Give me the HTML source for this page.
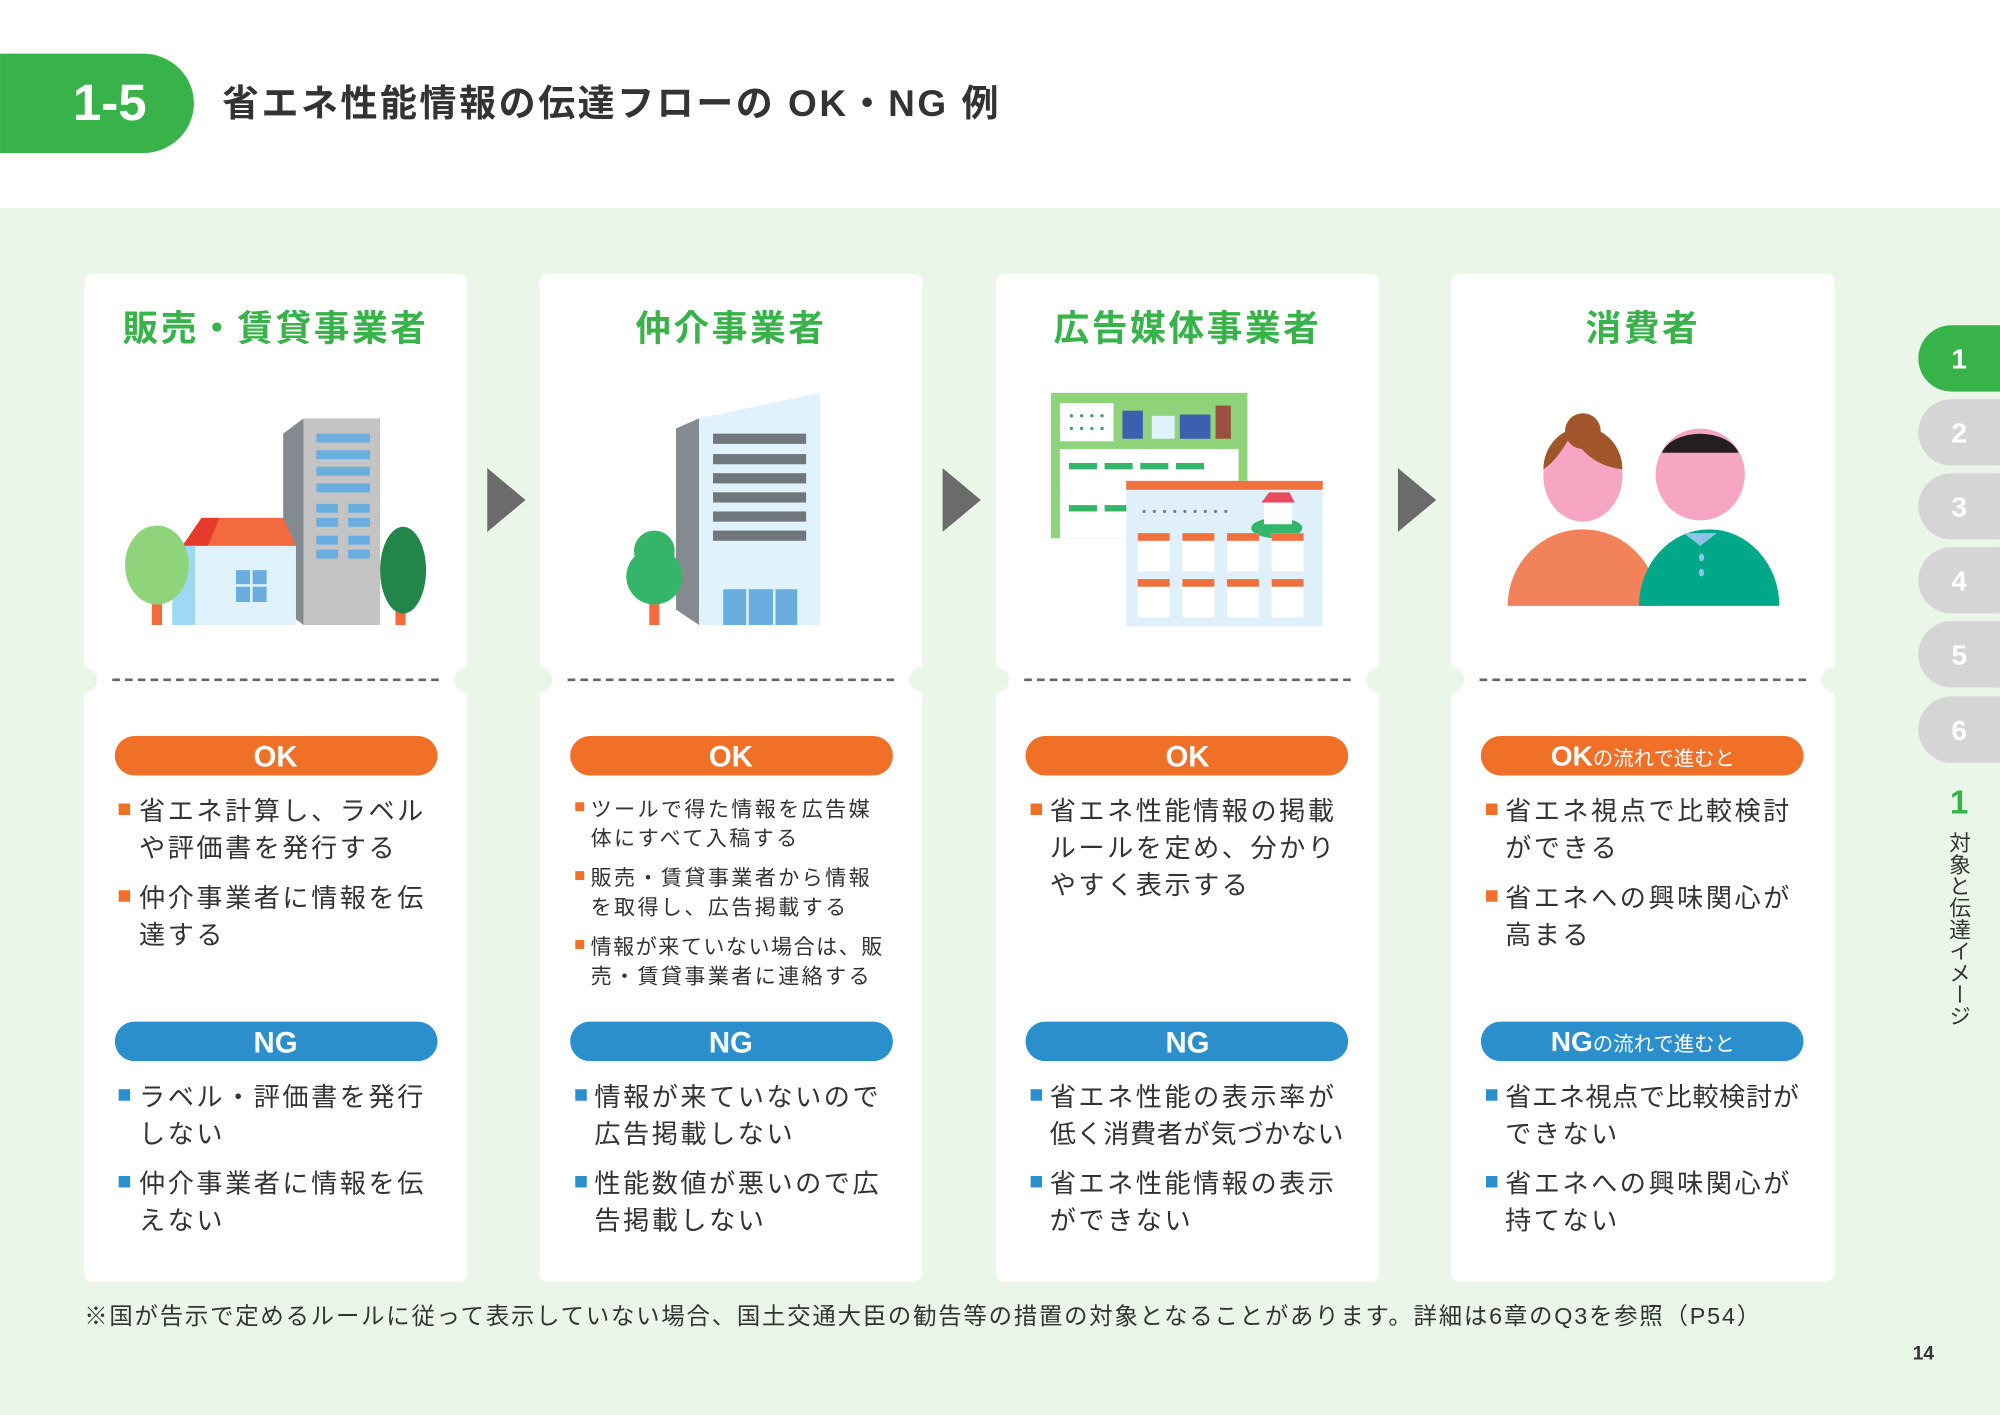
<!DOCTYPE html>
<html><head><meta charset="utf-8"><style>
html,body{margin:0;padding:0;background:#fff}
svg{display:block}
text{font-family:"Liberation Sans","Noto Sans CJK JP",sans-serif}
</style></head><body>
<svg width="2000" height="1415" viewBox="0 0 1568 1109.4" xmlns="http://www.w3.org/2000/svg">
<rect width="1568" height="1110" fill="#fff"/>
<rect y="163" width="1568" height="947" fill="#eaf6e8"/>
<!-- header -->
<path d="M0 42 H112 A40 39 0 0 1 112 120 H0 Z" fill="#37b34a"/>
<text x="86" y="94" font-size="40" font-weight="bold" fill="#fff" text-anchor="middle">1-5</text>
<text x="174" y="91" font-size="29" font-weight="bold" fill="#333" letter-spacing="2">省エネ性能情報の伝達フローの OK・NG 例</text>

<!-- cards -->
<g fill="#fff">
<rect x="66" y="215" width="300" height="790" rx="6"/>
<rect x="423" y="215" width="300" height="790" rx="6"/>
<rect x="781" y="215" width="300" height="790" rx="6"/>
<rect x="1138" y="215" width="300" height="790" rx="6"/>
</g>
<g fill="#eaf6e8">
<circle cx="66" cy="533" r="10"/><circle cx="366" cy="533" r="10"/>
<circle cx="423" cy="533" r="10"/><circle cx="723" cy="533" r="10"/>
<circle cx="781" cy="533" r="10"/><circle cx="1081" cy="533" r="10"/>
<circle cx="1138" cy="533" r="10"/><circle cx="1438" cy="533" r="10"/>
</g>
<g stroke="#666" stroke-width="2" stroke-dasharray="6 4">
<line x1="88" y1="533" x2="346" y2="533"/>
<line x1="445" y1="533" x2="703" y2="533"/>
<line x1="803" y1="533" x2="1061" y2="533"/>
<line x1="1160" y1="533" x2="1418" y2="533"/>
</g>
<g font-size="28" font-weight="bold" fill="#37b34a" text-anchor="middle" letter-spacing="2">
<text x="216" y="267">販売・賃貸事業者</text>
<text x="573" y="267">仲介事業者</text>
<text x="931" y="267">広告媒体事業者</text>
<text x="1288" y="267">消費者</text>
</g>
<!-- arrows -->
<g fill="#6b6b6b">
<polygon points="382,367 412,392 382,417"/>
<polygon points="739,367 769,392 739,417"/>
<polygon points="1096,367 1126,392 1096,417"/>
</g>

<!-- illustration 1 -->
<polygon points="222,340 238,328 238,490 222,478" fill="#848b90"/>
<rect x="238" y="328" width="60" height="162" fill="#c4c4c4"/>
<g fill="#6aaee0">
<rect x="248" y="340" width="42" height="7"/><rect x="248" y="353" width="42" height="7"/>
<rect x="248" y="366" width="42" height="7"/><rect x="248" y="379" width="42" height="7"/>
<rect x="248" y="395" width="17" height="7"/><rect x="273" y="395" width="17" height="7"/>
<rect x="248" y="406" width="17" height="7"/><rect x="273" y="406" width="17" height="7"/>
<rect x="248" y="420" width="17" height="7"/><rect x="273" y="420" width="17" height="7"/>
<rect x="248" y="431" width="17" height="7"/><rect x="273" y="431" width="17" height="7"/>
</g>
<polygon points="143,428 158,406 222,406 232,428" fill="#f26a3d"/>
<polygon points="143,428 158,406 172,406 163,428" fill="#e63a2d"/>
<rect x="135" y="428" width="97" height="62" fill="#e0f2fb"/>
<rect x="135" y="428" width="18" height="62" fill="#9dd9f3"/>
<rect x="185" y="447" width="24" height="25" fill="#6aaee0"/>
<rect x="196" y="447" width="2" height="25" fill="#e0f2fb"/><rect x="185" y="458" width="24" height="2" fill="#e0f2fb"/>
<rect x="119" y="470" width="8" height="20" fill="#f26a3d"/>
<ellipse cx="123" cy="443" rx="25" ry="31" fill="#8fd37a"/>
<rect x="310" y="470" width="8" height="20" fill="#f26a3d"/>
<ellipse cx="316" cy="447" rx="18" ry="34" fill="#22864a"/>

<!-- illustration 2 -->
<polygon points="530,336 548,328 548,490 530,478" fill="#848b90"/>
<polygon points="548,328 643,308 643,490 548,490" fill="#e0f2fb"/>
<g fill="#6f777c">
<rect x="559" y="340" width="73" height="8"/><rect x="559" y="356" width="73" height="8"/>
<rect x="559" y="371" width="73" height="8"/><rect x="559" y="386" width="73" height="8"/>
<rect x="559" y="401" width="73" height="8"/><rect x="559" y="416" width="73" height="8"/>
</g>
<rect x="567" y="462" width="58" height="28" fill="#6aaee0"/>
<rect x="585" y="462" width="2" height="28" fill="#e0f2fb"/><rect x="606" y="462" width="2" height="28" fill="#e0f2fb"/>
<rect x="509" y="466" width="8" height="24" fill="#f26a3d"/>
<circle cx="513" cy="432" r="16" fill="#35b56a"/>
<circle cx="513" cy="452" r="22" fill="#35b56a"/>

<!-- illustration 3 -->
<rect x="824" y="308" width="154" height="114" fill="#8fd37a"/>
<rect x="831" y="316" width="42" height="30" fill="#fff"/>
<g fill="#35a070"><circle cx="840" cy="326" r="1.3"/><circle cx="848" cy="326" r="1.3"/><circle cx="856" cy="326" r="1.3"/><circle cx="864" cy="326" r="1.3"/><circle cx="840" cy="336" r="1.3"/><circle cx="848" cy="336" r="1.3"/><circle cx="856" cy="336" r="1.3"/><circle cx="864" cy="336" r="1.3"/></g>
<rect x="880" y="322" width="16" height="22" fill="#3c5fb0"/><rect x="903" y="326" width="18" height="18" fill="#e0f2fb"/>
<rect x="925" y="325" width="24" height="19" fill="#3c5fb0"/><rect x="953" y="318" width="12" height="26" fill="#9a5040"/>
<rect x="831" y="352" width="140" height="70" fill="#fff"/>
<g fill="#35b56a"><rect x="838" y="363" width="22" height="5"/><rect x="866" y="363" width="22" height="5"/><rect x="838" y="396" width="22" height="5"/><rect x="866" y="396" width="22" height="5"/><rect x="894" y="363" width="22" height="5"/><rect x="922" y="363" width="22" height="5"/></g>
<rect x="883" y="377" width="154" height="114" fill="#dff0fa"/>
<rect x="883" y="377" width="154" height="7" fill="#f07040"/>
<g fill="#6f777c"><circle cx="897" cy="401" r="1.2"/><circle cx="905" cy="401" r="1.2"/><circle cx="913" cy="401" r="1.2"/><circle cx="921" cy="401" r="1.2"/><circle cx="929" cy="401" r="1.2"/><circle cx="937" cy="401" r="1.2"/><circle cx="945" cy="401" r="1.2"/><circle cx="953" cy="401" r="1.2"/><circle cx="961" cy="401" r="1.2"/></g>
<ellipse cx="1001" cy="414" rx="20" ry="8" fill="#35b56a"/>
<rect x="991" y="393" width="22" height="18" fill="#fff"/><polygon points="989,394 995,386 1011,386 1015,394" fill="#e84a5f"/>
<g fill="#fff"><rect x="892" y="418" width="25" height="30"/><rect x="927" y="418" width="25" height="30"/><rect x="962" y="418" width="25" height="30"/><rect x="997" y="418" width="25" height="30"/>
<rect x="892" y="454" width="25" height="30"/><rect x="927" y="454" width="25" height="30"/><rect x="962" y="454" width="25" height="30"/><rect x="997" y="454" width="25" height="30"/></g>
<g fill="#f07040"><rect x="892" y="418" width="25" height="6"/><rect x="927" y="418" width="25" height="6"/><rect x="962" y="418" width="25" height="6"/><rect x="997" y="418" width="25" height="6"/>
<rect x="892" y="454" width="25" height="6"/><rect x="927" y="454" width="25" height="6"/><rect x="962" y="454" width="25" height="6"/><rect x="997" y="454" width="25" height="6"/></g>

<!-- illustration 4 -->
<path d="M1182 475 A59 60 0 0 1 1300 475 Z" fill="#f2825a"/>
<path d="M1285 475 A55 60 0 0 1 1395 475 Z" fill="#00a88a"/>
<polygon points="1320,418 1333,428 1346,418" fill="#8fc4ea"/>
<ellipse cx="1241" cy="373" rx="31" ry="36" fill="#f6a6c3"/>
<circle cx="1241" cy="338" r="14" fill="#a0562a"/>
<path d="M1210 368 A31 33 0 0 1 1272 368 Q1245 365 1232 340 Q1222 360 1210 368 Z" fill="#a0562a"/>
<ellipse cx="1333" cy="372" rx="35" ry="36" fill="#f6a6c3"/>
<path d="M1303 355 A31 20 0 0 1 1363 355 Z" fill="#231f20"/>
<g fill="#8fc4ea"><ellipse cx="1334" cy="437" rx="2" ry="3"/><ellipse cx="1334" cy="449" rx="2" ry="3"/></g>

<!-- pills -->
<g>
<rect x="90" y="577" width="253" height="31" rx="15.5" fill="#f07028"/>
<rect x="447" y="577" width="253" height="31" rx="15.5" fill="#f07028"/>
<rect x="804" y="577" width="253" height="31" rx="15.5" fill="#f07028"/>
<rect x="1161" y="577" width="253" height="31" rx="15.5" fill="#f07028"/>
<rect x="90" y="801" width="253" height="31" rx="15.5" fill="#2b8fce"/>
<rect x="447" y="801" width="253" height="31" rx="15.5" fill="#2b8fce"/>
<rect x="804" y="801" width="253" height="31" rx="15.5" fill="#2b8fce"/>
<rect x="1161" y="801" width="253" height="31" rx="15.5" fill="#2b8fce"/>
</g>
<g fill="#fff" font-weight="bold" text-anchor="middle" font-size="23">
<text x="216" y="601">OK</text><text x="573" y="601">OK</text><text x="931" y="601">OK</text>
<text x="216" y="825">NG</text><text x="573" y="825">NG</text><text x="931" y="825">NG</text>
<text x="1288" y="600"><tspan font-size="22">OK</tspan><tspan font-size="16" font-weight="normal">の流れで進むと</tspan></text>
<text x="1288" y="824"><tspan font-size="22">NG</tspan><tspan font-size="16" font-weight="normal">の流れで進むと</tspan></text>
</g>

<!-- bullets -->
<g font-size="20.5" fill="#333" letter-spacing="2">
<text x="109" y="643">省エネ計算し、ラベル</text><text x="109" y="672">や評価書を発行する</text>
<text x="109" y="711">仲介事業者に情報を伝</text><text x="109" y="740">達する</text>
<text x="823" y="643">省エネ性能情報の掲載</text><text x="823" y="672">ルールを定め、分かり</text><text x="823" y="701">やすく表示する</text>
<text x="1180" y="643">省エネ視点で比較検討</text><text x="1180" y="672">ができる</text>
<text x="1180" y="711">省エネへの興味関心が</text><text x="1180" y="740">高まる</text>
<text x="109" y="867">ラベル・評価書を発行</text><text x="109" y="896">しない</text>
<text x="109" y="935">仲介事業者に情報を伝</text><text x="109" y="964">えない</text>
<text x="466" y="867">情報が来ていないので</text><text x="466" y="896">広告掲載しない</text>
<text x="466" y="935">性能数値が悪いので広</text><text x="466" y="964">告掲載しない</text>
<text x="823" y="867">省エネ性能の表示率が</text><text x="823" y="896" letter-spacing="0.5">低く消費者が気づかない</text>
<text x="823" y="935">省エネ性能情報の表示</text><text x="823" y="964">ができない</text>
<text x="1180" y="867" letter-spacing="0.5">省エネ視点で比較検討が</text><text x="1180" y="896">できない</text>
<text x="1180" y="935">省エネへの興味関心が</text><text x="1180" y="964">持てない</text>
</g>
<g font-size="16.5" fill="#333" letter-spacing="1.9">
<text x="463" y="640">ツールで得た情報を広告媒</text><text x="463" y="663">体にすべて入稿する</text>
<text x="463" y="694">販売・賃貸事業者から情報</text><text x="463" y="717">を取得し、広告掲載する</text>
<text x="463" y="748" letter-spacing="1.2">情報が来ていない場合は、販</text><text x="463" y="771">売・賃貸事業者に連絡する</text>
</g>
<g fill="#f07028">
<rect x="93" y="630" width="9" height="9"/><rect x="93" y="698" width="9" height="9"/>
<rect x="451" y="629" width="7" height="7"/><rect x="451" y="683" width="7" height="7"/><rect x="451" y="737" width="7" height="7"/>
<rect x="808" y="630" width="9" height="9"/>
<rect x="1165" y="630" width="9" height="9"/><rect x="1165" y="698" width="9" height="9"/>
</g>
<g fill="#2b8fce">
<rect x="93" y="854" width="9" height="9"/><rect x="93" y="922" width="9" height="9"/>
<rect x="451" y="854" width="9" height="9"/><rect x="451" y="922" width="9" height="9"/>
<rect x="808" y="854" width="9" height="9"/><rect x="808" y="922" width="9" height="9"/>
<rect x="1165" y="854" width="9" height="9"/><rect x="1165" y="922" width="9" height="9"/>
</g>

<!-- footnote -->
<text x="66" y="1038" font-size="18.3" fill="#333" textLength="1314" lengthAdjust="spacing">※国が告示で定めるルールに従って表示していない場合、国土交通大臣の勧告等の措置の対象となることがあります。詳細は6章のQ3を参照（P54）</text>
<text x="1508" y="1066" font-size="15" font-weight="bold" fill="#333" text-anchor="middle">14</text>

<!-- side tabs -->
<path d="M1530 255 H1568 V307 H1530 A26 26 0 0 1 1530 255 Z" fill="#37b34a"/>
<g fill="#d5d5d5">
<path d="M1530 313 H1568 V365 H1530 A26 26 0 0 1 1530 313 Z"/>
<path d="M1530 371 H1568 V423 H1530 A26 26 0 0 1 1530 371 Z"/>
<path d="M1530 429 H1568 V481 H1530 A26 26 0 0 1 1530 429 Z"/>
<path d="M1530 487 H1568 V539 H1530 A26 26 0 0 1 1530 487 Z"/>
<path d="M1530 546 H1568 V598 H1530 A26 26 0 0 1 1530 546 Z"/>
</g>
<g fill="#fff" font-size="22" font-weight="bold" text-anchor="middle">
<text x="1536" y="289">1</text><text x="1536" y="347">2</text><text x="1536" y="405">3</text>
<text x="1536" y="463">4</text><text x="1536" y="521">5</text><text x="1536" y="580">6</text>
</g>
<text x="1536" y="638" font-size="26" font-weight="bold" fill="#37b34a" text-anchor="middle">1</text>
<text x="1536" y="652" font-size="17" fill="#333" style="writing-mode:vertical-rl">対象と伝達イメージ</text>
</svg>
</body></html>
